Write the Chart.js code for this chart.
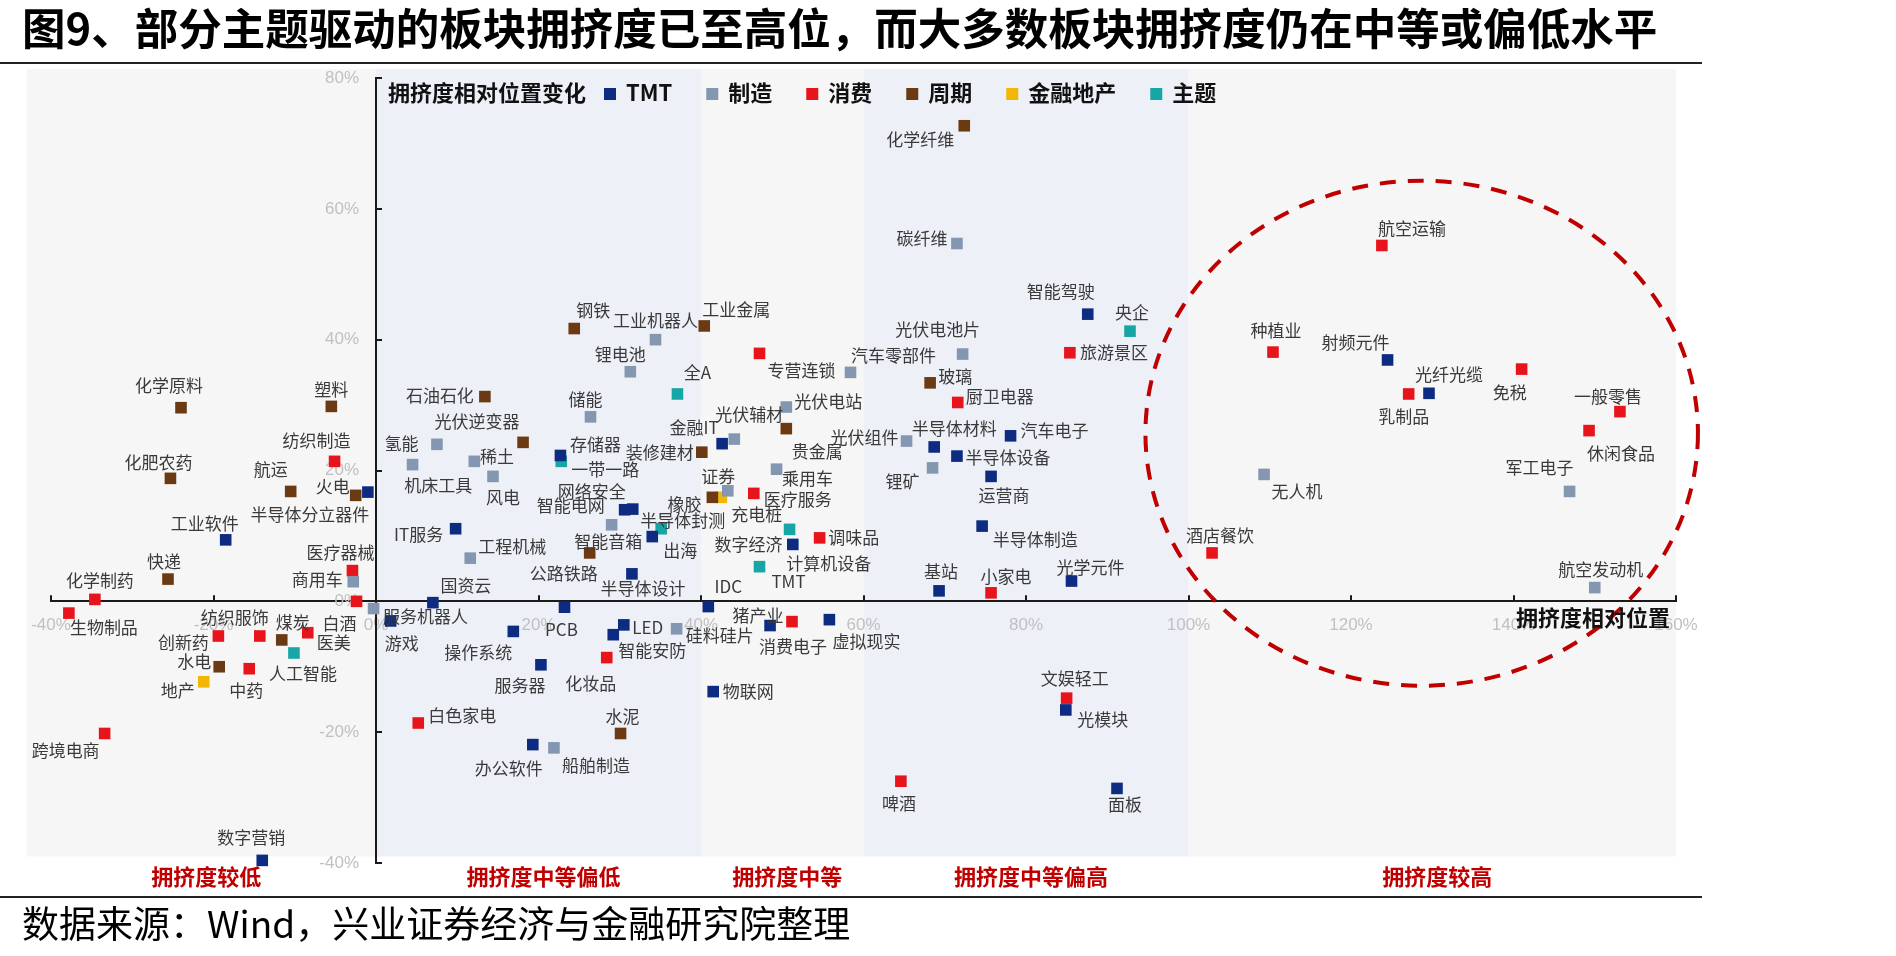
<!DOCTYPE html>
<html><head><meta charset="utf-8">
<script src="https://cdn.jsdelivr.net/npm/chart.js@4.4.1/dist/chart.umd.min.js"></script>
<style>html,body{margin:0;padding:0;background:#fff;overflow:hidden}canvas{display:block}</style>
</head><body>
<canvas id="c" width="1896" height="956"></canvas>
<script>
const titleText = '图9、部分主题驱动的板块拥挤度已至高位，而大多数板块拥挤度仍在中等或偏低水平';
const sourceText = '数据来源：Wind，兴业证券经济与金融研究院整理';
const legendTitle = '拥挤度相对位置变化';
const xAxisTitle = '拥挤度相对位置';
const categories = ['TMT', '制造', '消费', '周期', '金融地产', '主题'];
const xTicks = [-40, -20, 0, 20, 40, 60, 80, 100, 120, 140, 160];
const yTicks = [-40, -20, 0, 20, 40, 60, 80];
const zoneNames = ['拥挤度较低', '拥挤度中等偏低', '拥挤度中等', '拥挤度中等偏高', '拥挤度较高'];
const zoneEdges = [-43, 0, 40, 60, 100, 160];

const tmtPoints = [
  ['智能驾驶', 87.6, 43.9], ['射频元件', 124.5, 36.9], ['光纤光缆', 129.6, 31.8],
  ['半导体材料', 68.7, 23.6], ['汽车电子', 78.1, 25.3], ['半导体设备', 71.5, 22.2],
  ['运营商', 75.7, 19.1], ['半导体制造', 74.6, 11.5], ['基站', 69.3, 1.6],
  ['光学元件', 85.6, 3.1], ['金融IT', 42.6, 24.1], ['存储器', 22.7, 22.3],
  ['网络安全', 30.6, 14.0], ['半导体封测', 31.6, 14.1], ['智能音箱', 34.0, 9.9],
  ['计算机设备', 51.3, 8.7], ['半导体设计', 31.5, 4.2], ['半导体分立器件', -1.0, 16.7],
  ['工业软件', -18.5, 9.4], ['IT服务', 9.8, 11.1], ['国资云', 7.0, -0.2],
  ['IDC', 40.9, -0.8], ['游戏', 1.8, -3.0], ['PCB', 23.2, -0.9],
  ['LED', 30.5, -3.6], ['智能安防', 29.2, -5.1], ['操作系统', 16.9, -4.6],
  ['消费电子', 48.5, -3.7], ['虚拟现实', 55.8, -2.8], ['物联网', 41.5, -13.8],
  ['服务器', 20.3, -9.7], ['办公软件', 19.3, -21.9], ['光模块', 84.9, -16.6],
  ['面板', 91.2, -28.6], ['数字营销', -14.0, -39.6]
];
const manufacturingPoints = [
  ['碳纤维', 71.5, 54.7], ['工业机器人', 34.4, 40.0], ['锂电池', 31.3, 35.1],
  ['光伏电池片', 72.2, 37.8], ['汽车零部件', 58.4, 35.0], ['光伏辅材', 44.1, 24.8],
  ['光伏电站', 50.5, 29.7], ['储能', 26.4, 28.2], ['光伏组件', 65.3, 24.5],
  ['锂矿', 68.5, 20.4], ['乘用车', 49.3, 20.2], ['光伏逆变器', 7.5, 24.0],
  ['氢能', 4.5, 20.9], ['机床工具', 12.1, 21.4], ['风电', 14.4, 19.1],
  ['工程机械', 11.6, 6.6], ['智能电网', 29.0, 11.7], ['充电桩', 43.3, 16.9],
  ['硅料硅片', 37.0, -4.2], ['船舶制造', 21.9, -22.4], ['服务机器人', -0.3, -1.1],
  ['商用车', -2.8, 3.0], ['军工电子', 146.9, 16.8], ['航空发动机', 150.0, 2.1],
  ['无人机', 109.3, 19.4]
];
const consumerPoints = [
  ['专营连锁', 47.2, 37.9], ['旅游景区', 85.4, 38.0], ['种植业', 110.4, 38.1],
  ['航空运输', 123.8, 54.4], ['乳制品', 127.1, 31.7], ['免税', 141.0, 35.5],
  ['一般零售', 153.1, 29.0], ['休闲食品', 149.3, 26.1], ['酒店餐饮', 102.9, 7.4],
  ['厨卫电器', 71.6, 30.4], ['小家电', 75.7, 1.3], ['医疗服务', 46.5, 16.5],
  ['调味品', 54.6, 9.7], ['纺织制造', -5.1, 21.4], ['医疗器械', -2.9, 4.7],
  ['化学制药', -34.6, 0.3], ['生物制品', -37.8, -1.8], ['白酒', -2.4, 0.0],
  ['医美', -8.4, -4.8], ['纺织服饰', -14.3, -5.3], ['创新药', -19.4, -5.3],
  ['中药', -15.6, -10.3], ['跨境电商', -33.4, -20.2], ['白色家电', 5.2, -18.6],
  ['化妆品', 28.4, -8.6], ['猪产业', 51.2, -3.1], ['文娱轻工', 85.0, -14.8],
  ['啤酒', 64.6, -27.5]
];
const cyclicalPoints = [
  ['化学纤维', 72.4, 72.7], ['钢铁', 24.4, 41.7], ['工业金属', 40.4, 42.1],
  ['玻璃', 68.2, 33.4], ['石油石化', 13.4, 31.3], ['稀土', 18.1, 24.3],
  ['装修建材', 40.1, 22.8], ['贵金属', 50.5, 26.4], ['橡胶', 41.4, 15.9],
  ['公路铁路', 26.3, 7.4], ['化学原料', -24.0, 29.6], ['塑料', -5.5, 29.8],
  ['化肥农药', -25.3, 18.8], ['航运', -10.5, 16.8], ['火电', -2.5, 16.2],
  ['快递', -25.6, 3.4], ['煤炭', -11.6, -5.9], ['水电', -19.3, -10.0],
  ['水泥', 30.1, -20.2]
];
const financePoints = [
  ['证券', 42.5, 15.9], ['地产', -21.2, -12.3]
];
const themePoints = [
  ['央企', 92.8, 41.3], ['全A', 37.1, 31.7], ['一带一路', 22.8, 21.4],
  ['出海', 35.1, 11.1], ['数字经济', 50.9, 11.0], ['TMT', 47.2, 5.3],
  ['人工智能', -10.1, -7.9]
];
const groupPoints = [tmtPoints, manufacturingPoints, consumerPoints, cyclicalPoints, financePoints, themePoints];

// ---- styling / layout (not data) ----
const categoryColors = ['#0d2b80', '#8497b0', '#e8141b', '#6b3a12', '#f2b705', '#17a5a5'];
const CJK = '"Noto Sans CJK SC", "Noto Sans", sans-serif';
// label text centre offset from its marker, in px
const labelOffsets = {
  '智能驾驶':[-27,-23],'射频元件':[-32,-17],'光纤光缆':[20,-19],'半导体材料':[20,-18],'汽车电子':[44,-5],
  '半导体设备':[51,1],'运营商':[13,19],'半导体制造':[53,13],'基站':[2,-19],'光学元件':[19,-14],
  '金融IT':[-28,-16],'存储器':[35,-11],'网络安全':[-33,-18],'半导体封测':[50,11],'智能音箱':[-44,5],
  '计算机设备':[36,19],'半导体设计':[11,15],'半导体分立器件':[-58,22],'工业软件':[-21,-16],'IT服务':[-37,6],
  '国资云':[33,-17],'IDC':[20,-20],'游戏':[11,23],'PCB':[-3,22],'LED':[24,3],'智能安防':[39,16],
  '操作系统':[-35,21],'消费电子':[23,21],'虚拟现实':[37,22],'物联网':[35,0],'服务器':[-21,21],
  '办公软件':[-24,24],'光模块':[37,10],'面板':[8,16],'数字营销':[-11,-23],
  '碳纤维':[-35,-5],'工业机器人':[0,-19],'锂电池':[-10,-17],'光伏电池片':[-25,-25],'汽车零部件':[43,-17],
  '光伏辅材':[15,-25],'光伏电站':[42,-5],'储能':[-5,-17],'光伏组件':[-42,-4],'锂矿':[-30,14],
  '乘用车':[31,9],'光伏逆变器':[40,-23],'氢能':[-11,-21],'机床工具':[-36,24],'风电':[10,21],
  '工程机械':[42,-12],'智能电网':[-41,-19],'充电桩':[29,24],'硅料硅片':[43,7],'船舶制造':[42,18],
  '服务机器人':[52,8],'商用车':[-36,-2],'军工电子':[-30,-24],'航空发动机':[6,-18],'无人机':[33,17],
  '专营连锁':[42,17],'旅游景区':[44,0],'种植业':[3,-22],'航空运输':[30,-17],'乳制品':[-5,23],
  '免税':[-12,23],'一般零售':[-12,-15],'休闲食品':[32,23],'酒店餐饮':[8,-17],'厨卫电器':[42,-6],
  '小家电':[15,-16],'医疗服务':[44,6],'调味品':[34,0],'纺织制造':[-18,-21],'医疗器械':[-12,-18],
  '化学制药':[5,-19],'生物制品':[35,14],'白酒':[-17,22],'医美':[26,10],'纺织服饰':[-25,-18],
  '创新药':[-35,7],'中药':[-3,22],'跨境电商':[-39,17],'白色家电':[44,-7],'化妆品':[-16,26],
  '猪产业':[-34,-6],'文娱轻工':[8,-20],'啤酒':[-2,22],
  '化学纤维':[-44,14],'钢铁':[19,-18],'工业金属':[32,-16],'玻璃':[25,-6],'石油石化':[-45,-1],
  '稀土':[-26,14],'装修建材':[-42,0],'贵金属':[31,23],'橡胶':[-28,7],'公路铁路':[-26,21],
  '化学原料':[-12,-22],'塑料':[0,-17],'化肥农药':[-12,-16],'航运':[-20,-22],'火电':[-23,-9],
  '快递':[-4,-18],'煤炭':[11,-17],'水电':[-25,-5],'水泥':[2,-17],
  '证券':[-3,-21],'地产':[-26,9],
  '央企':[2,-19],'全A':[20,-21],'一带一路':[44,8],'出海':[19,22],'数字经济':[-41,15],'TMT':[29,15],'人工智能':[9,21]
};
// dashed ellipse highlighting the crowded zone (in axis units)
const highlight = {cx: 128.7, cy: 25.7, rx: 34.0, ry: 38.6};

const decor = {
  id: 'decor',
  beforeDraw(chart) {
    const {ctx} = chart; const x = chart.scales.x, y = chart.scales.y;
    ctx.save();
    ctx.fillStyle = '#fff'; ctx.fillRect(0, 0, chart.width, chart.height);
    // title
    ctx.fillStyle = '#000'; ctx.textAlign = 'left'; ctx.textBaseline = 'middle';
    ctx.font = 'bold 43.5px ' + CJK;
    ctx.fillText(titleText, 22, 28);
    ctx.fillStyle = '#222';
    ctx.fillRect(0, 62, 1702, 2);
    ctx.fillRect(0, 896, 1702, 2);
    ctx.fillStyle = '#000'; ctx.font = '37px ' + CJK;
    ctx.fillText(sourceText, 22, 924);
    // zone backgrounds
    const top = y.getPixelForValue(81.4), bot = y.getPixelForValue(-39.0);
    for (let i = 0; i < zoneNames.length; i++) {
      const l = x.getPixelForValue(zoneEdges[i]), r = x.getPixelForValue(zoneEdges[i + 1]);
      ctx.fillStyle = i % 2 === 1 ? '#edf0f7' : '#f6f6f6';
      ctx.fillRect(l, top, r - l, bot - top);
      ctx.fillStyle = '#c00000'; ctx.font = 'bold 22px ' + CJK; ctx.textAlign = 'center';
      ctx.fillText(zoneNames[i], (l + r) / 2 + 5, 877);
    }
    ctx.restore();
  },
  afterDatasetsDraw(chart) {
    const {ctx} = chart; const x = chart.scales.x, y = chart.scales.y;
    ctx.save();
    // dashed ellipse
    const cx = x.getPixelForValue(highlight.cx), cy = y.getPixelForValue(highlight.cy);
    const rx = x.getPixelForValue(highlight.cx + highlight.rx) - cx;
    const ry = cy - y.getPixelForValue(highlight.cy + highlight.ry);
    ctx.strokeStyle = '#c00000'; ctx.lineWidth = 4; ctx.setLineDash([16, 12]);
    ctx.beginPath(); ctx.ellipse(cx, cy, rx, ry, 0, 0, Math.PI * 2); ctx.stroke();
    ctx.setLineDash([]);
    // point labels
    ctx.font = '17px ' + CJK; ctx.fillStyle = '#3a3a3a';
    ctx.textAlign = 'center'; ctx.textBaseline = 'middle';
    chart.data.datasets.forEach((ds, di) => {
      const meta = chart.getDatasetMeta(di);
      meta.data.forEach((el, i) => {
        const name = ds.data[i].name;
        const off = labelOffsets[name] || [0, -18];
        ctx.fillText(name, el.x + off[0], el.y + off[1]);
      });
    });
    ctx.restore();
  },
  afterDraw(chart) {
    const {ctx} = chart; const x = chart.scales.x, y = chart.scales.y;
    ctx.save();
    // inward tick marks
    const x0 = x.getPixelForValue(0), y0 = y.getPixelForValue(0);
    ctx.strokeStyle = '#1a1a1a'; ctx.lineWidth = 2;
    xTicks.forEach(v => { if (v === 0) return; const px = Math.round(x.getPixelForValue(v));
      ctx.beginPath(); ctx.moveTo(px, y0); ctx.lineTo(px, y0 - 6); ctx.stroke(); });
    yTicks.forEach(v => { if (v === 0) return; const py = Math.round(y.getPixelForValue(v));
      ctx.beginPath(); ctx.moveTo(x0, py); ctx.lineTo(x0 + 6, py); ctx.stroke(); });
    // x-axis title
    ctx.fillStyle = '#111'; ctx.font = 'bold 22px ' + CJK; ctx.textAlign = 'right'; ctx.textBaseline = 'middle';
    ctx.fillText(xAxisTitle, 1670, 618);
    // legend
    ctx.textAlign = 'left';
    let lx = 388; const ly = 93;
    ctx.fillText(legendTitle, lx, ly);
    lx += ctx.measureText(legendTitle).width + 18;
    categories.forEach((c, i) => {
      ctx.fillStyle = categoryColors[i];
      ctx.fillRect(lx, ly - 5, 12, 12);
      lx += 22;
      ctx.fillStyle = '#111';
      ctx.fillText(c, lx, ly);
      lx += ctx.measureText(c).width + 34;
    });
    ctx.restore();
  }
};

new Chart(document.getElementById('c'), {
  type: 'scatter',
  data: {
    datasets: categories.map((c, i) => ({
      label: c,
      data: groupPoints[i].map(p => ({x: p[1], y: p[2], name: p[0]})),
      backgroundColor: categoryColors[i],
      borderWidth: 0,
      pointStyle: 'rect',
      pointRadius: 8.2,
      pointHoverRadius: 8.2,
      clip: false
    }))
  },
  options: {
    responsive: false,
    animation: false,
    devicePixelRatio: 1,
    layout: {padding: {left: 51, right: 220, top: 78, bottom: 93}},
    plugins: {legend: {display: false}, tooltip: {enabled: false}},
    events: [],
    scales: {
      x: {
        type: 'linear', min: -40, max: 160, position: {y: 0},
        afterBuildTicks: s => { s.ticks = xTicks.map(v => ({value: v})); },
        ticks: {color: '#c0c0c0', font: {family: 'Liberation Sans', size: 17}, padding: 14,
                maxRotation: 0, autoSkip: false, callback: v => v + '%'},
        grid: {display: false, drawTicks: false},
        border: {display: true, color: '#1a1a1a', width: 2}
      },
      y: {
        type: 'linear', min: -40, max: 80, position: {x: 0},
        afterBuildTicks: s => { s.ticks = yTicks.map(v => ({value: v})); },
        ticks: {color: '#c0c0c0', font: {family: 'Liberation Sans', size: 17}, padding: 0,
                autoSkip: false, callback: v => v + '%\u2002\u2002'},
        grid: {display: false, drawTicks: false},
        border: {display: true, color: '#1a1a1a', width: 2}
      }
    }
  },
  plugins: [decor]
});
</script>
</body></html>
